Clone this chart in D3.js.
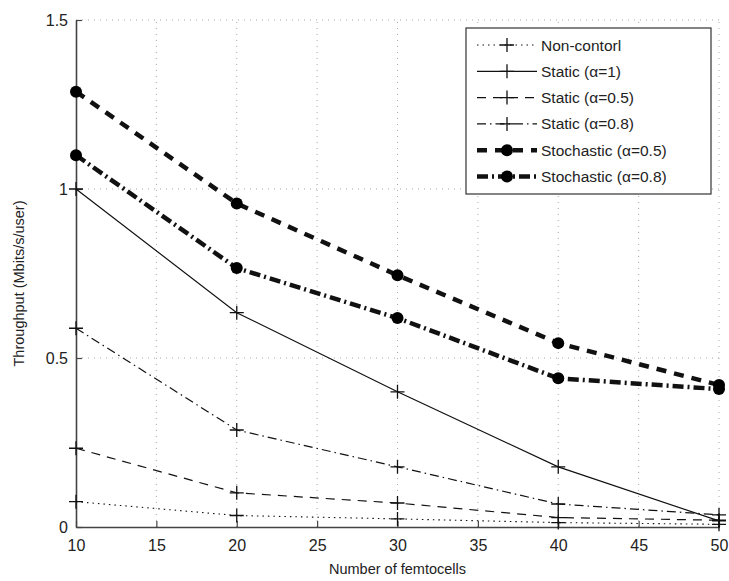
<!DOCTYPE html>
<html><head><meta charset="utf-8">
<script src="https://cdn.jsdelivr.net/npm/d3@7"></script>
<style>body{margin:0;background:#fff}svg{display:block}text{font-family:"Liberation Sans",Arial,sans-serif;fill:#222}</style>
</head><body><svg id="c" width="729" height="581"></svg>
<script>
const femtocells = [10, 20, 30, 40, 50];
const nonControl   = [0.075, 0.034, 0.024, 0.013, 0.008];
const static1      = [1.00, 0.634, 0.400, 0.178, 0.018];
const static05     = [0.233, 0.101, 0.071, 0.028, 0.020];
const static08     = [0.588, 0.287, 0.178, 0.068, 0.036];
const stochastic05 = [1.288, 0.957, 0.745, 0.544, 0.420];
const stochastic08 = [1.100, 0.766, 0.618, 0.440, 0.408];
const xTicks = [10, 15, 20, 25, 30, 35, 40, 45, 50];
const yTicks = [0, 0.5, 1, 1.5];
const yTickLabels = ["0", "0.5", "1", "1.5"];
const seriesNames = ["Non-contorl", "Static (\u03b1=1)", "Static (\u03b1=0.5)", "Static (\u03b1=0.8)", "Stochastic (\u03b1=0.5)", "Stochastic (\u03b1=0.8)"];

const styles = [
  {w:1.1, dash:"1.5,4", marker:"plus"},
  {w:1.2, dash:null, marker:"plus"},
  {w:1.2, dash:"9,7", marker:"plus"},
  {w:1.2, dash:"9,4,1.5,4", marker:"plus"},
  {w:4.5, dash:"10,8", marker:"circle"},
  {w:4.5, dash:"11,4,2,4", marker:"circle"}
];
const allSeries = [nonControl, static1, static05, static08, stochastic05, stochastic08];

const svg = d3.select("#c");
const L = 76, R = 719, T = 20, B = 527;
const x = d3.scaleLinear().domain([10, 50]).range([L, R]);
const y = d3.scaleLinear().domain([0, 1.5]).range([B, T]);

// grid
const grid = svg.append("g").attr("stroke", "#aaa").attr("stroke-width", 1).attr("stroke-dasharray", "1,5");
grid.selectAll("line.gx").data(xTicks.slice(1)).join("line")
  .attr("x1", d => x(d)).attr("x2", d => x(d)).attr("y1", B).attr("y2", T);
grid.selectAll("line.gy").data(yTicks.slice(1)).join("line")
  .attr("x1", L).attr("x2", R).attr("y1", d => y(d)).attr("y2", d => y(d));

// axes
const xAxis = d3.axisBottom(x).tickValues(xTicks).tickSizeInner(-6).tickSizeOuter(0).tickPadding(13);
const gx = svg.append("g").attr("transform", `translate(0,${B})`).call(xAxis);
const yAxis = d3.axisLeft(y).tickValues(yTicks).tickFormat((d, i) => yTickLabels[i]).tickSizeInner(-6).tickSizeOuter(0).tickPadding(8);
const gy = svg.append("g").attr("transform", `translate(${L},0)`).call(yAxis);
[gx, gy].forEach(g => {
  g.select(".domain").attr("stroke", "#444").attr("stroke-width", 1.6);
  g.selectAll(".tick line").attr("stroke", "#444").attr("stroke-width", 1.2);
  g.selectAll(".tick text").attr("font-size", 16).attr("fill", "#333").attr("font-family", "Liberation Sans, Arial, sans-serif");
});

svg.append("text").attr("x", (L + R) / 2).attr("y", 574).attr("text-anchor", "middle").attr("font-size", 14.5).text("Number of femtocells");
svg.append("text").attr("transform", `translate(24,${(T + B) / 2 + 10}) rotate(-90)`).attr("text-anchor", "middle").attr("font-size", 14.5).text("Throughput (Mbits/s/user)");

// lines
const line = d3.line().x((d, i) => x(femtocells[i])).y(d => y(d));
const plot = svg.append("g");
function drawMarker(g, cx, cy, type) {
  if (type === "plus") {
    g.append("path").attr("d", `M${cx - 7},${cy}H${cx + 7}M${cx},${cy - 7}V${cy + 7}`).attr("stroke", "#111").attr("stroke-width", 1.3).attr("fill", "none");
  } else {
    g.append("circle").attr("cx", cx).attr("cy", cy).attr("r", 6).attr("fill", "#000");
  }
}
allSeries.forEach((s, k) => {
  const st = styles[k];
  plot.append("path").datum(s).attr("d", line).attr("fill", "none").attr("stroke", "#111")
    .attr("stroke-width", st.w).attr("stroke-dasharray", st.dash);
  s.forEach((v, i) => drawMarker(plot, x(femtocells[i]), y(v), st.marker));
});

// legend
const lg = svg.append("g");
lg.append("rect").attr("x", 466).attr("y", 28).attr("width", 245).attr("height", 166).attr("fill", "#fff").attr("stroke", "#333").attr("stroke-width", 1.2);
seriesNames.forEach((n, k) => {
  const st = styles[k];
  const yy = 45 + k * 26.3;
  lg.append("line").attr("x1", 477).attr("x2", 537).attr("y1", yy).attr("y2", yy).attr("stroke", "#111")
    .attr("stroke-width", st.w).attr("stroke-dasharray", st.dash);
  drawMarker(lg, 507, yy, st.marker);
  lg.append("text").attr("x", 541).attr("y", yy + 5.5).attr("font-size", 15.5).text(n);
});
</script></body></html>
